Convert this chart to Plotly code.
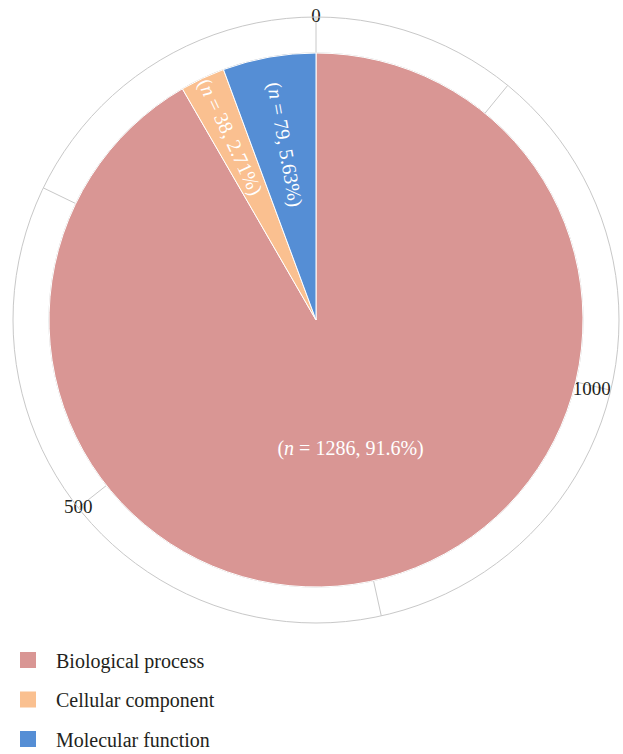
import plotly.graph_objects as go

# ---- data ----
categories = ["Biological process", "Cellular component", "Molecular function"]
counts = [1286, 38, 79]
percent_labels = ["91.6%", "2.71%", "5.63%"]
colors = ["#D99694", "#FAC090", "#558ED5"]
axis_ticks = [0, 250, 500, 750, 1000, 1250]
axis_tick_labels = ["0", "", "500", "", "1000", ""]

total = sum(counts)
W, H = 623, 754
SERIF = "Liberation Serif"

# geometry (pixels)
cx, cy = 316, 320
R_outer, R_pie = 303, 267

slice_text = ["(<i>n</i> = %d, %s)" % (c, p) for c, p in zip(counts, percent_labels)]

fig = go.Figure()

# outer ring (angular axis showing cumulative count)
tick_deg = [v / total * 360 for v in axis_ticks]
label_pos = ["middle center", "middle center", "middle center", "middle center", "middle left", "middle center"]
fig.add_trace(go.Scatterpolar(
    r=[1] * len(axis_ticks), theta=tick_deg, mode="text",
    text=axis_tick_labels, textposition=label_pos,
    textfont=dict(family=SERIF, size=19, color="#231f20"),
    hoverinfo="skip", showlegend=False,
))

# legend entries
for name, col in zip(categories, colors):
    fig.add_trace(go.Scatterpolar(
        r=[None], theta=[None], mode="markers", name=name,
        marker=dict(symbol="square", size=16, color=col),
        legendgroup=name, hoverinfo="skip",
    ))

pie_domain = dict(x=[(cx - R_pie) / W, (cx + R_pie) / W], y=[1 - (cy + R_pie) / H, 1 - (cy - R_pie) / H])

# main pie with radial labels for small slices
fig.add_trace(go.Pie(
    labels=categories, values=counts, sort=False, direction="clockwise", rotation=0,
    marker=dict(colors=colors, line=dict(color="white", width=1)),
    text=["", slice_text[1], slice_text[2]], textinfo="text", textposition="inside",
    insidetextorientation="radial",
    insidetextfont=dict(family=SERIF, size=20, color="white"),
    domain=pie_domain, showlegend=False, hoverinfo="label+value",
))
# overlay pie for horizontal label of large slice
fig.add_trace(go.Pie(
    labels=categories, values=counts, sort=False, direction="clockwise", rotation=0,
    marker=dict(colors=["rgba(0,0,0,0)"] * 3, line=dict(width=0)),
    text=[slice_text[0], "", ""], textinfo="text", textposition="inside",
    insidetextorientation="horizontal",
    insidetextfont=dict(family=SERIF, size=20, color="white"),
    domain=pie_domain, showlegend=False, hoverinfo="skip",
))

fig.update_layout(
    width=W, height=H,
    margin=dict(l=0, r=0, t=0, b=0, autoexpand=False),
    paper_bgcolor="white", plot_bgcolor="white",
    polar=dict(
        domain=dict(x=[(cx - R_outer) / W, (cx + R_outer) / W], y=[1 - (cy + R_outer) / H, 1 - (cy - R_outer) / H]),
        hole=R_pie / R_outer,
        bgcolor="rgba(0,0,0,0)",
        radialaxis=dict(visible=False, range=[0, 1]),
        angularaxis=dict(
            direction="counterclockwise", rotation=90,
            tickvals=tick_deg, showticklabels=False, ticks="",
            showgrid=True, gridcolor="#c8c8c8", gridwidth=1,
            showline=True, linecolor="#c8c8c8", linewidth=1,
        ),
    ),
    legend=dict(
        x=0, y=1 - 640.5 / H, xanchor="left", yanchor="top",
        font=dict(family=SERIF, size=20, color="#231f20"),
        itemwidth=46, tracegroupgap=10.5, bgcolor="rgba(0,0,0,0)",
    ),
    showlegend=True,
)

fig.write_html("out.html", config={"displayModeBar": False},
               post_script="document.body.style.margin='0';document.body.style.overflow='hidden';")
